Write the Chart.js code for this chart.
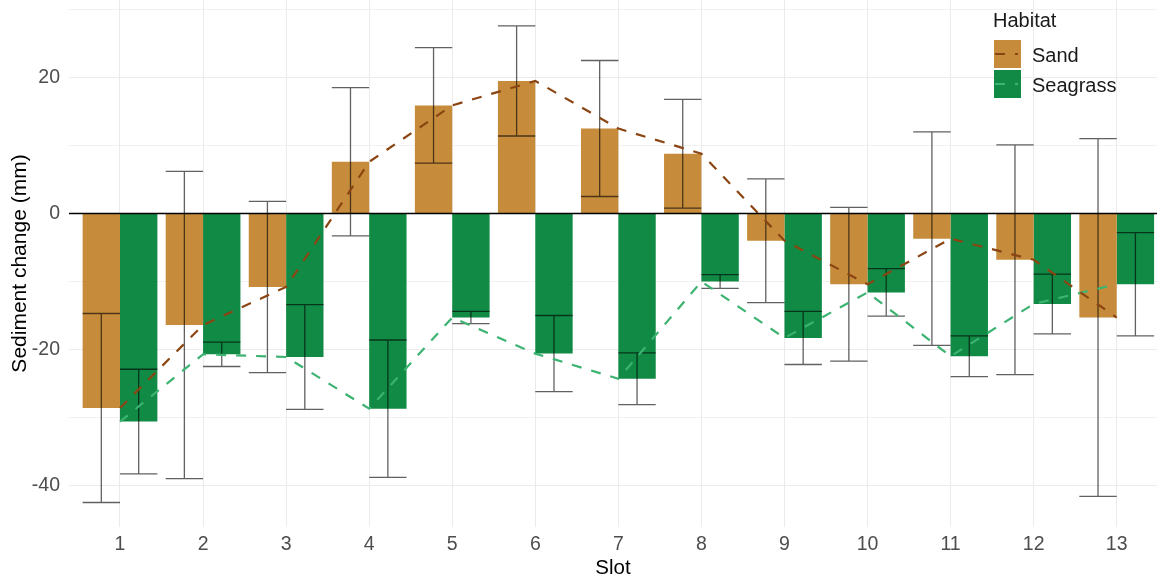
<!DOCTYPE html>
<html lang="en">
<head>
    <meta charset="UTF-8">
    <title>Sediment change by slot</title>
    <script src="https://cdn.jsdelivr.net/npm/chart.js"></script>
    <style>
        body { margin: 0; background: #fff; }
        #wrap { width: 1157px; height: 581px; position: relative; }
    </style>
</head>
<body>
    <div id="wrap"><canvas id="chart"></canvas></div>
    <script>
        // Datos
        const slots = [1, 2, 3, 4, 5, 6, 7, 8, 9, 10, 11, 12, 13];
        const sandMean = [-28.6, -16.4, -10.8, 7.6, 15.9, 19.5, 12.5, 8.8, -4.0, -10.4, -3.7, -6.8, -15.3];
        const sandSE = [13.9, 22.6, 12.6, 10.9, 8.5, 8.1, 10.0, 8.0, 9.1, 11.3, 15.7, 16.9, 26.3];
        const seagrassMean = [-30.6, -20.7, -21.1, -28.7, -15.3, -20.6, -24.3, -10.0, -18.3, -11.6, -21.0, -13.3, -10.4];
        const seagrassSE = [7.7, 1.8, 7.7, 10.1, 0.9, 5.6, 3.8, 1.0, 3.9, 3.5, 3.0, 4.4, 7.6];
        const yTicks = [-40, -30, -20, -10, 0, 10, 20, 30];

        const FONT = "'Liberation Sans', Arial, sans-serif";
        const sandFill = '#C68C3B';
        const seagrassFill = '#118A45';
        const sandLine = '#8B4513';
        const seagrassLine = '#3CB371';

        const pts = arr => slots.map((s, i) => ({ x: s, y: arr[i] }));

        // barras de error + linea del cero
        const errorBars = {
            id: 'errorBars',
            afterDatasetDraw(chart, args) {
                const ds = chart.data.datasets[args.index];
                if (!ds.errors) return;
                const ctx = chart.ctx;
                const y = chart.scales.y;
                ctx.save();
                ctx.strokeStyle = 'rgba(0,0,0,0.62)';
                ctx.lineWidth = 1.3;
                args.meta.data.forEach((el, i) => {
                    const m = ds.data[i].y, e = ds.errors[i];
                    const top = y.getPixelForValue(m + e);
                    const bot = y.getPixelForValue(m - e);
                    const hw = el.width / 2;
                    ctx.beginPath();
                    ctx.moveTo(el.x, top); ctx.lineTo(el.x, bot);
                    ctx.moveTo(el.x - hw, top); ctx.lineTo(el.x + hw, top);
                    ctx.moveTo(el.x - hw, bot); ctx.lineTo(el.x + hw, bot);
                    ctx.stroke();
                });
                ctx.restore();
            },
            afterDatasetsDraw(chart) {
                const ctx = chart.ctx;
                const a = chart.chartArea;
                const y0 = chart.scales.y.getPixelForValue(0);
                ctx.save();
                ctx.strokeStyle = '#000';
                ctx.lineWidth = 1.4;
                ctx.beginPath();
                ctx.moveTo(a.left, y0); ctx.lineTo(a.right, y0);
                ctx.stroke();
                ctx.restore();
            }
        };

        // leyenda dentro del panel, arriba a la derecha
        const habitatLegend = {
            id: 'habitatLegend',
            afterDraw(chart) {
                const ctx = chart.ctx;
                ctx.save();
                ctx.fillStyle = '#1a1a1a';
                ctx.font = '20px ' + FONT;
                ctx.textBaseline = 'middle';
                ctx.textAlign = 'left';
                ctx.fillText('Habitat', 993, 21);
                const keys = [
                    { label: 'Sand', fill: sandFill, line: sandLine, y: 40 },
                    { label: 'Seagrass', fill: seagrassFill, line: seagrassLine, y: 70 }
                ];
                keys.forEach(k => {
                    ctx.fillStyle = k.fill;
                    ctx.fillRect(994, k.y, 27, 28);
                    ctx.strokeStyle = k.line;
                    ctx.lineWidth = 2.2;
                    ctx.setLineDash([10, 10]);
                    ctx.beginPath();
                    ctx.moveTo(995, k.y + 14); ctx.lineTo(1018, k.y + 14);
                    ctx.stroke();
                    ctx.setLineDash([]);
                    ctx.fillStyle = '#1a1a1a';
                    ctx.fillText(k.label, 1032, k.y + 16);
                });
                ctx.restore();
            }
        };

        const chart = new Chart(document.getElementById('chart'), {
            type: 'bar',
            data: {
                datasets: [
                    {
                        type: 'line', label: 'Sand line', data: pts(sandMean),
                        borderColor: sandLine, borderWidth: 2.2, borderDash: [10, 10],
                        pointRadius: 0, fill: false, tension: 0, order: 0
                    },
                    {
                        type: 'line', label: 'Seagrass line', data: pts(seagrassMean),
                        borderColor: seagrassLine, borderWidth: 2.2, borderDash: [10, 10],
                        pointRadius: 0, fill: false, tension: 0, order: 0
                    },
                    {
                        label: 'Sand', data: pts(sandMean), errors: sandSE,
                        backgroundColor: sandFill, borderWidth: 0, order: 1,
                        categoryPercentage: 0.9, barPercentage: 1
                    },
                    {
                        label: 'Seagrass', data: pts(seagrassMean), errors: seagrassSE,
                        backgroundColor: seagrassFill, borderWidth: 0, order: 1,
                        categoryPercentage: 0.9, barPercentage: 1
                    }
                ]
            },
            options: {
                responsive: true,
                maintainAspectRatio: false,
                animation: false,
                layout: { padding: 0 },
                plugins: { legend: { display: false }, tooltip: { enabled: false } },
                scales: {
                    x: {
                        type: 'linear',
                        min: 0.386,
                        max: 13.485,
                        offset: false,
                        afterBuildTicks: s => { s.ticks = slots.map(v => ({ value: v })); },
                        afterFit: s => { s.height = 54; s.paddingLeft = 0; s.paddingRight = 0; },
                        grid: { offset: false, color: '#EBEBEB', lineWidth: 1, drawTicks: false },
                        border: { display: false },
                        ticks: { color: '#4D4D4D', font: { family: FONT, size: 19.5 }, padding: 6, maxRotation: 0 },
                        title: { display: true, text: 'Slot', color: '#000', font: { family: FONT, size: 20.5 }, padding: { top: 0, bottom: 0 } }
                    },
                    y: {
                        min: -46.1,
                        max: 31.4,
                        afterBuildTicks: s => { s.ticks = yTicks.map(v => ({ value: v })); },
                        afterFit: s => { s.width = 69; s.paddingTop = 0; s.paddingBottom = 0; },
                        grid: {
                            color: '#EBEBEB',
                            lineWidth: c => (c.tick && c.tick.value % 20 === 0) ? 1.1 : 0.7,
                            drawTicks: false
                        },
                        border: { display: false },
                        ticks: {
                            color: '#4D4D4D', font: { family: FONT, size: 19.5 }, padding: 9,
                            callback: v => (v % 20 === 0 ? String(v) : '')
                        },
                        title: { display: true, text: 'Sediment change (mm)', color: '#000', font: { family: FONT, size: 21 }, padding: { top: 8, bottom: 0 } }
                    }
                }
            },
            plugins: [errorBars, habitatLegend]
        });
    </script>
</body>
</html>
